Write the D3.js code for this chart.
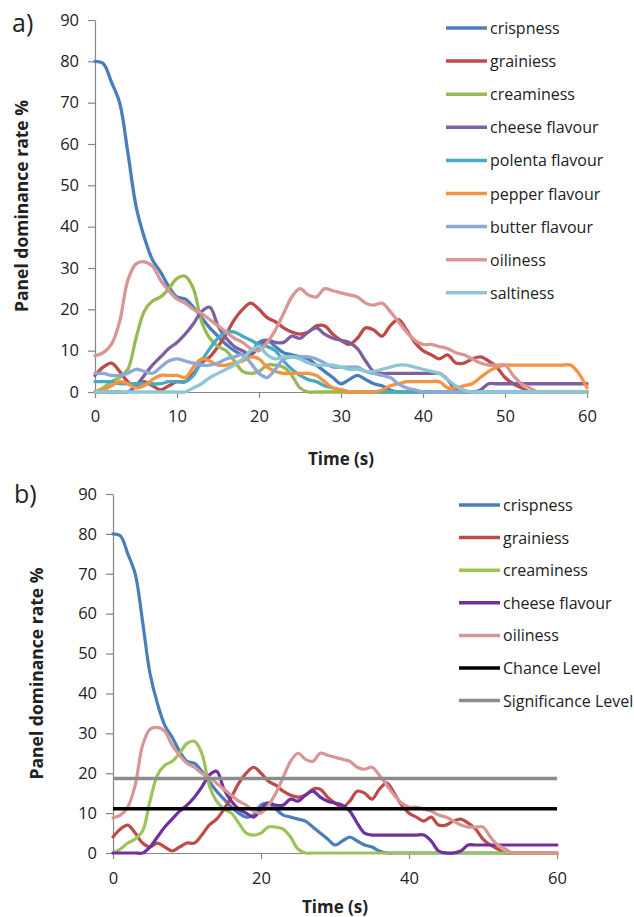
<!DOCTYPE html>
<html>
<head>
<meta charset="utf-8">
<script src="https://cdn.jsdelivr.net/npm/d3@7"></script>
<style>
  body { margin: 0; background: #fff; }
  svg text { font-family: "Open Sans", sans-serif; fill: #222; }
</style>
</head>
<body>
<svg id="chart" width="634" height="917"></svg>
<script>
// Time axis (seconds) shared by every series
const seconds = [0,1,2,3,4,5,6,7,8,9,10,11,12,13,14,15,16,17,18,19,20,21,22,23,24,25,26,27,28,29,30,
  31,32,33,34,35,36,37,38,39,40,41,42,43,44,45,46,47,48,49,50,51,52,53,54,55,56,57,58,59,60];

// Panel dominance rate (%) per attribute, one value per second
const crispness = [80,79.5,75,70,58,45,37.5,32,29,25.5, 23,22.5,20.5,18,15.5,13.5,11.5,10,9,9.5,
  12,12.5,11,9.5,9,8.5,8,6.5,5,3.5, 2,3,4,3,2,1.5,0.5,0,0,0, 0,0,0,0,0,0,0,0,0,0, 0,0,0,0,0,0,0,0,0,0,0];
const grainiess = [4,6,7,5,2.5,1.5,2.5,1.5,0.5,1.5, 2.5,2.5,4.5,7,8.5,11,14,17.5,20,21.5,
  20,18,17,15.5,14.5,14,14.5,16,16,14, 12.5,11.5,13,15.5,15,13.5,16,17.5,15,12,
  10,9,8,9,7,7,8,8.5,7.5,6, 3.5,2,1,0,0,0,0,0,0,0,0];
const creaminess = [0,1,2.5,3.5,5.5,13,19.5,22,23,25, 27.5,28,25,17,13,11,10,7.5,5,4.5,
  5,6.5,6.5,6,4,1,0,0,0,0, 0,0,0,0,0,0,0,0,0,0, 0,0,0,0,0,0,0,0,0,0, 0,0,0,0,0,0,0,0,0,0,0];
const cheeseFlavour = [0,0,0,0,0,1.5,4,6.5,8.5,10.5, 12,14,16.5,19.5,20.5,16,13,11,10,9,
  11,12.5,12,12,13.5,13,14.5,15.5,14,13, 12.5,12,10.5,7.5,5,4.5,4.5,4.5,4.5,4.5,
  4.5,4.5,4.5,3,0.5,0,0,0.5,2,2, 2,2,2,2,2,2,2,2,2,2,2];
const polentaFlavour = [2.5,2.5,2.5,2,2,2,2,2,2,2.5, 2.5,2.5,4,7.5,10.5,13,14.5,14.5,13.5,12.5,
  11.5,11,10,7.5,5.5,4,3,2.5,1.5,1, 0.5,0,0,0,0,0,0,0,0,0, 0,0,0,0,0,0,0,0,0,0, 0,0,0,0,0,0,0,0,0,0,0];
const pepperFlavour = [0,0.5,1.5,2.5,2,1,1.5,3,4,4, 4,3.5,6,8,7.5,6.5,6.5,7,7.5,8.5,
  8,6,5,4.5,4.5,4.5,4.5,4,2.5,1, 0.5,0,0,0,0,0.5,1.5,2,2.5,2.5,
  2.5,2.5,2.5,1,1,1.5,2,3.5,5,6, 6.5,6.5,6.5,6.5,6.5,6.5,6.5,6.5,6.5,4.5,1];
const butterFlavour = [4.5,4.5,4,4,4.5,5.5,5,4.5,6,7.5, 8,7.5,7,6.5,6.5,7,8,8.5,9,7,
  4.5,3.5,5.5,8,8.5,8.5,8.5,8,7,6, 6,6,6,5,4.5,4,3.5,2,1,0.5,
  0,0,0,0,0,0,0,0,0,0, 0,0,0,0,0,0,0,0,0,0,0];
const oiliness = [8.8,9.5,11.5,17,27,31,31.5,30.5,27,24.5, 22.5,21.5,20,19,17.5,16,14.5,13,12,10.5,
  10,12,15,19,23,25,23.5,23,25,24.5, 24,23.5,23,21.5,21,21.5,19.5,17,14.5,12.5,
  11.5,11.5,11,10.5,9.5,9,8,7,6.5,6.5, 6.5,4,2,1,0,0,0,0,0,0,0];
const saltiness = [0,0,0,0,0,0,0,0,0,0, 0,0,1,2,3.5,4.5,5.5,6.5,8,10,
  11,9,8,8.5,8.5,8,7,6.5,6.5,6.5, 6,5.5,5.5,5,5,5.5,6,6.5,6.5,6,
  5.5,5,4.5,3,1.5,0.5,0,0,0,0, 0,0,0,0,0,0,0,0,0,0,0];

// Reference levels for panel b (%)
const chanceLevel = 11.1;
const significanceLevel = 18.7;

// Tick labels
const yTicks = [0,10,20,30,40,50,60,70,80,90];
const xTicksA = [0,10,20,30,40,50,60];
const xTicksB = [0,20,40,60];

const svg = d3.select("#chart");

function drawPanel(cfg) {
  const x = d3.scaleLinear().domain([0, 60]).range([cfg.left, cfg.right]);
  const y = d3.scaleLinear().domain([0, 90]).range([cfg.bottom, cfg.top]);
  const g = svg.append("g");

  // axes
  const yAxis = g.append("g").attr("transform", `translate(${cfg.left},0)`)
    .call(d3.axisLeft(y).tickValues(yTicks).tickSize(7).tickSizeOuter(0).tickPadding(9));
  const xAxis = g.append("g").attr("transform", `translate(0,${cfg.bottom})`)
    .call(d3.axisBottom(x).tickValues(cfg.xTicks).tickSize(6).tickSizeOuter(0).tickPadding(cfg.xPad));
  [yAxis, xAxis].forEach(a => {
    a.select(".domain").attr("stroke", "#868686").attr("stroke-width", 1.2);
    a.selectAll(".tick line").attr("stroke", "#868686").attr("stroke-width", 1.2);
    a.selectAll(".tick text").attr("font-size", 16.5).attr("fill", "#222")
      .style("font-family", '"Open Sans", sans-serif');
  });

  // series
  const line = d3.line()
    .x((d, i) => x(seconds[i]))
    .y(d => y(d))
    .curve(d3.curveCatmullRom.alpha(0.5));
  cfg.series.forEach(s => {
    g.append("path").datum(s.values)
      .attr("d", line)
      .attr("fill", "none")
      .attr("stroke", s.color)
      .attr("stroke-width", cfg.lineWidth)
      .attr("stroke-linejoin", "round")
      .attr("stroke-linecap", "round");
  });

  // horizontal reference levels
  (cfg.levels || []).forEach(l => {
    g.append("line")
      .attr("x1", x(0)).attr("x2", x(60))
      .attr("y1", y(l.value)).attr("y2", y(l.value))
      .attr("stroke", l.color).attr("stroke-width", 3.5);
  });

  // titles
  g.append("text").attr("x", (cfg.left + cfg.right) / 2).attr("y", cfg.xTitleY)
    .attr("text-anchor", "middle").attr("font-size", 17).attr("font-weight", "bold")
    .text("Time (s)");
  g.append("text")
    .attr("transform", `translate(${cfg.yTitleX},${(cfg.top + cfg.bottom) / 2}) rotate(-90)`)
    .attr("text-anchor", "middle").attr("dominant-baseline", "central")
    .attr("font-size", 17.5).attr("font-weight", "bold")
    .text("Panel dominance rate %");
  g.append("text").attr("x", cfg.tagX).attr("y", cfg.tagY)
    .attr("font-size", 25).text(cfg.tag);

  // legend
  const items = cfg.series.map(s => ({ name: s.name, color: s.color }))
    .concat((cfg.levels || []).map(l => ({ name: l.name, color: l.color })));
  items.forEach((it, i) => {
    const ly = cfg.legendY + i * cfg.legendStep;
    g.append("line").attr("x1", cfg.legendX).attr("x2", cfg.legendX + 41)
      .attr("y1", ly).attr("y2", ly)
      .attr("stroke", it.color).attr("stroke-width", 3.5);
    g.append("text").attr("x", cfg.legendX + 44).attr("y", ly)
      .attr("dominant-baseline", "central").attr("font-size", 16)
      .text(it.name);
  });
}

drawPanel({
  tag: "a)", tagX: 12, tagY: 32,
  left: 95, right: 587, top: 20, bottom: 392,
  xTicks: xTicksA, xPad: 12, xTitleY: 465, yTitleX: 21,
  lineWidth: 3.3,
  legendX: 446, legendY: 28, legendStep: 33.1,
  series: [
    { name: "crispness", values: crispness, color: "#4A7EBB" },
    { name: "grainiess", values: grainiess, color: "#BE4B48" },
    { name: "creaminess", values: creaminess, color: "#98B954" },
    { name: "cheese flavour", values: cheeseFlavour, color: "#7D60A0" },
    { name: "polenta flavour", values: polentaFlavour, color: "#46AAC5" },
    { name: "pepper flavour", values: pepperFlavour, color: "#F69240" },
    { name: "butter flavour", values: butterFlavour, color: "#8EA8D8" },
    { name: "oiliness", values: oiliness, color: "#D99694" },
    { name: "saltiness", values: saltiness, color: "#8CC8D4" }
  ]
});

drawPanel({
  tag: "b)", tagX: 14, tagY: 503,
  left: 113, right: 557, top: 494, bottom: 853,
  xTicks: xTicksB, xPad: 13, xTitleY: 913, yTitleX: 36,
  lineWidth: 3.2,
  legendX: 459, legendY: 505, legendStep: 32.6,
  series: [
    { name: "crispness", values: crispness, color: "#4A7EBB" },
    { name: "grainiess", values: grainiess, color: "#BE4B48" },
    { name: "creaminess", values: creaminess, color: "#9DC35A" },
    { name: "cheese flavour", values: cheeseFlavour, color: "#7030A0" },
    { name: "oiliness", values: oiliness, color: "#D99694" }
  ],
  levels: [
    { name: "Chance Level", value: chanceLevel, color: "#000000" },
    { name: "Significance Level", value: significanceLevel, color: "#8C8C8C" }
  ]
});
</script>
</body>
</html>
